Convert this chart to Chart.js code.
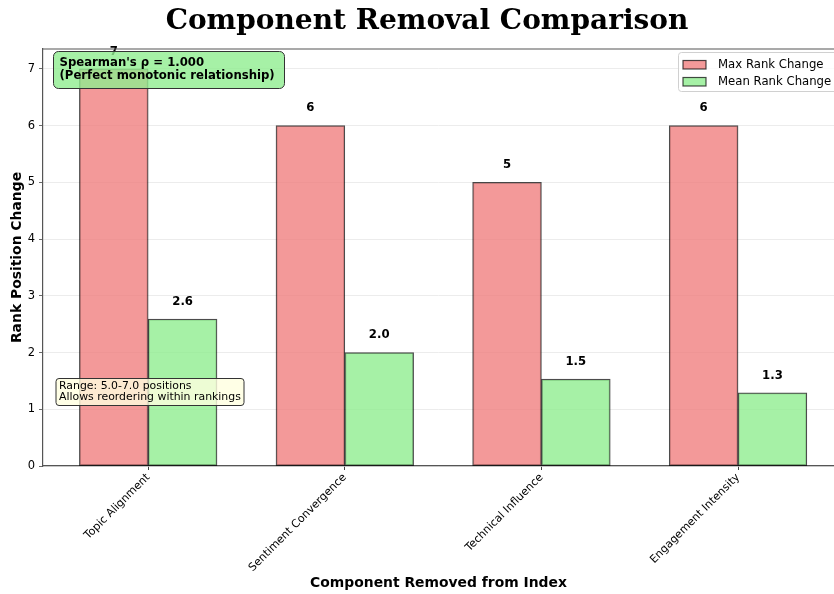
<!DOCTYPE html>
<html>
<head>
<meta charset="utf-8">
<script src="https://cdn.jsdelivr.net/npm/chart.js@4.4.1/dist/chart.umd.min.js"></script>
<style>
    html, body { margin: 0; padding: 0; background: #fff; overflow: hidden; }
</style>
</head>
<body>
<canvas id="chart" width="834" height="594"></canvas>
<script>
// components that were dropped from the index, one group of bars each
const components = ['Topic Alignment', 'Sentiment Convergence', 'Technical Influence', 'Engagement Intensity'];
const maxRankChange = [7, 6, 5, 6];
const meanRankChange = [2.59, 2.0, 1.53, 1.29];
const spearmanRho = 1.0;

const FONT = '"DejaVu Sans", sans-serif';
const barOffset = 0.175; // half of the bar width, in category units

// value printed above every bar
const valueLabels = {
    id: 'valueLabels',
    afterDatasetsDraw(chart) {
        const ctx = chart.ctx;
        const yScale = chart.scales.y;
        ctx.save();
        ctx.font = 'bold 11.7px ' + FONT;
        ctx.fillStyle = '#000';
        ctx.textAlign = 'center';
        ctx.textBaseline = 'middle';
        chart.data.datasets.forEach((ds, di) => {
            const meta = chart.getDatasetMeta(di);
            meta.data.forEach((bar, i) => {
                const v = ds.data[i].y;
                const py = yScale.getPixelForValue(v + 0.2) - 6;
                ctx.fillText(v.toFixed(ds.labelDecimals), bar.x, py);
            });
        });
        ctx.restore();
    }
};

function roundBox(ctx, x, y, w, h, r, fill, stroke) {
    ctx.beginPath();
    ctx.roundRect(x, y, w, h, r);
    ctx.fillStyle = fill;
    ctx.fill();
    ctx.strokeStyle = stroke;
    ctx.lineWidth = 1;
    ctx.stroke();
}

// title, frame line on top, the two text boxes and the legend
const overlays = {
    id: 'overlays',
    afterDraw(chart) {
        const ctx = chart.ctx;
        const area = chart.chartArea;
        ctx.save();

        ctx.fillStyle = '#000';
        ctx.font = 'bold 28px "DejaVu Serif", serif';
        ctx.textAlign = 'center';
        ctx.textBaseline = 'alphabetic';
        ctx.fillText('Component Removal Comparison', 427, 28.5);

        // top spine
        ctx.strokeStyle = '#555';
        ctx.lineWidth = 1.2;
        ctx.beginPath();
        ctx.moveTo(area.left, area.top);
        ctx.lineTo(area.right, area.top);
        ctx.stroke();

        // correlation note
        let bx = area.left + 10, by = area.top + 2;
        roundBox(ctx, bx + 0.5, by + 0.5, 231, 37, 5, 'rgba(144,238,144,0.8)', '#333');
        ctx.fillStyle = '#000';
        ctx.font = 'bold 11.7px ' + FONT;
        ctx.textAlign = 'left';
        ctx.textBaseline = 'middle';
        ctx.fillText("Spearman's \u03c1 = " + spearmanRho.toFixed(3), bx + 6.5, by + 12);
        ctx.fillText('(Perfect monotonic relationship)', bx + 6.5, by + 25);

        // range note
        const lo = Math.min(...maxRankChange), hi = Math.max(...maxRankChange);
        bx = area.left + 12.5; by = area.top + 329;
        roundBox(ctx, bx + 0.5, by + 0.5, 188, 27, 3, 'rgba(255,255,224,0.8)', '#333');
        ctx.fillStyle = '#000';
        ctx.font = '10.9px ' + FONT;
        ctx.fillText('Range: ' + lo.toFixed(1) + '-' + hi.toFixed(1) + ' positions', bx + 3.5, by + 8);
        ctx.fillText('Allows reordering within rankings', bx + 3.5, by + 19.5);

        // legend in the upper right corner
        const lx = area.right - 156, ly = area.top + 3;
        roundBox(ctx, lx + 0.5, ly + 0.5, 165, 39, 3, 'rgba(255,255,255,0.8)', '#d0d0d0');
        ctx.font = '11.7px ' + FONT;
        chart.data.datasets.forEach((ds, i) => {
            const cy = ly + 13 + i * 17;
            ctx.fillStyle = ds.backgroundColor;
            ctx.fillRect(lx + 5, cy - 4.5, 23, 8.5);
            ctx.strokeStyle = ds.borderColor;
            ctx.lineWidth = 1.2;
            ctx.strokeRect(lx + 5, cy - 4.5, 23, 8.5);
            ctx.fillStyle = '#000';
            ctx.fillText(ds.label, lx + 40, cy);
        });

        ctx.restore();
    }
};

const config = {
    type: 'bar',
    data: {
        datasets: [{
            label: 'Max Rank Change',
            data: maxRankChange.map((v, i) => ({ x: i - barOffset, y: v })),
            labelDecimals: 0,
            backgroundColor: 'rgba(240,128,128,0.8)',
            borderColor: 'rgba(0,0,0,0.7)',
            borderWidth: 1.2,
            borderSkipped: false,
        }, {
            label: 'Mean Rank Change',
            data: meanRankChange.map((v, i) => ({ x: i + barOffset, y: v })),
            labelDecimals: 1,
            backgroundColor: 'rgba(144,238,144,0.8)',
            borderColor: 'rgba(0,0,0,0.7)',
            borderWidth: 1.2,
            borderSkipped: false,
        }]
    },
    options: {
        responsive: false,
        animation: false,
        grouped: false,
        barPercentage: 1,
        categoryPercentage: 1,
        layout: { padding: { top: 49, left: 0, right: 0, bottom: 0 } },
        scales: {
            x: {
                type: 'linear',
                offset: false,
                min: -0.535,
                max: 3.488,
                afterBuildTicks: (scale) => {
                    scale.ticks = components.map((c, i) => ({ value: i }));
                },
                afterFit: (scale) => { scale.height = 128; },
                grid: {
                    offset: false,
                    drawOnChartArea: false,
                    tickLength: 4,
                    tickColor: '#444',
                },
                border: { color: '#555', width: 1.2 },
                ticks: {
                    autoSkip: false,
                    minRotation: 45,
                    maxRotation: 45,
                    padding: 1,
                    color: '#000',
                    font: { family: FONT, size: 11 },
                    callback: (value) => components[value] ?? '',
                },
                title: {
                    display: true,
                    text: 'Component Removed from Index',
                    color: '#000',
                    font: { family: FONT, size: 13.9, weight: 'bold' },
                    padding: { top: 0, bottom: 2.7 },
                },
            },
            y: {
                min: 0,
                max: 7.35,
                afterFit: (scale) => { scale.width = 43; },
                grid: {
                    color: '#e7e7e7',
                    lineWidth: 0.8,
                    tickLength: 4,
                    tickColor: '#444',
                },
                border: { color: '#555', width: 1.2 },
                ticks: {
                    stepSize: 1,
                    includeBounds: false,
                    padding: 4,
                    color: '#000',
                    font: { family: FONT, size: 11.5 },
                },
                title: {
                    display: true,
                    text: 'Rank Position Change',
                    color: '#000',
                    font: { family: FONT, size: 13.9, weight: 'bold' },
                    padding: { top: 8.7, bottom: 0 },
                },
            },
        },
        plugins: {
            legend: { display: false },
            tooltip: { enabled: false },
        },
    },
    plugins: [valueLabels, overlays],
};

const chart = new Chart(document.getElementById('chart'), config);
</script>
</body>
</html>
